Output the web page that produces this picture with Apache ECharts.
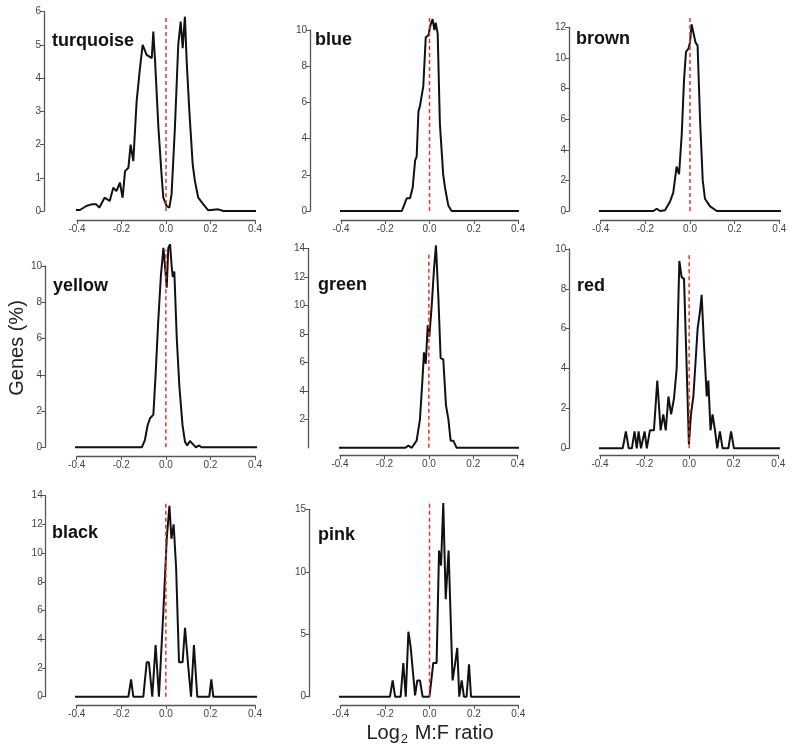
<!DOCTYPE html>
<html>
<head>
<meta charset="utf-8">
<style>html,body{margin:0;padding:0;background:#fff}#c{width:800px;height:754px}</style>
<script src="https://cdn.jsdelivr.net/npm/echarts@6/dist/echarts.min.js"></script>
</head>
<body>
<div id="c"></div>
<script>
// ---------- data (Log2 M:F ratio, Genes %) ----------
var panelNames = ['turquoise','blue','brown','yellow','green','red','black','pink'];
var xTicks = [-0.4,-0.2,0.0,0.2,0.4];
var yAxisLabel = 'Genes (%)';

var turquoiseX = [-0.511,-0.476,-0.439,-0.387,-0.358,-0.335,-0.313,-0.300,-0.276,-0.253,-0.237,-0.223,-0.207,-0.195,-0.184,-0.169,-0.159,-0.147,-0.132,-0.117,-0.105,-0.087,-0.064,-0.057,-0.049,-0.034,-0.019,-0.012,0.003,0.015,0.025,0.040,0.055,0.066,0.075,0.085,0.093,0.105,0.120,0.130,0.145,0.168,0.190,0.235,0.258,0.438];
var turquoiseY = [0,0.03,0.03,0.03,0.15,0.2,0.2,0.1,0.4,0.3,0.7,0.6,0.85,0.4,1.2,1.3,2.0,1.5,3.3,4.3,5.0,4.7,4.6,5.4,4.5,2.5,1.0,0.4,0.15,0.1,0.5,2.5,5.0,5.7,4.9,5.85,4.5,3.0,1.4,0.9,0.4,0.2,0.02,0.05,0,0];

var blueX = [-0.496,-0.125,-0.103,-0.088,-0.076,-0.065,-0.058,-0.050,-0.043,-0.028,-0.017,-0.005,0.005,0.014,0.022,0.028,0.037,0.047,0.062,0.070,0.085,0.100,0.445];
var blueY = [0,0,0.7,0.7,1.3,2.8,3.0,5.5,5.8,6.9,9.6,9.7,10.3,10.6,10.0,10.4,9.8,4.8,2.0,1.3,0.3,0,0];

var brownX = [-0.493,-0.164,-0.149,-0.134,-0.112,-0.090,-0.075,-0.060,-0.049,-0.037,-0.027,-0.018,-0.007,0.000,0.007,0.015,0.025,0.034,0.045,0.057,0.067,0.075,0.090,0.120,0.436];
var brownY = [0,0,0.15,0,0.05,0.6,1.2,2.9,2.4,5.0,8.5,10.4,10.6,11.0,12.2,12.3,11.0,10.8,6.0,2.0,0.8,0.9,0.3,0,0];

var yellowX = [-0.485,-0.108,-0.094,-0.082,-0.071,-0.056,-0.046,-0.034,-0.022,-0.011,-0.004,0.004,0.011,0.019,0.026,0.031,0.038,0.049,0.061,0.075,0.086,0.096,0.108,0.123,0.135,0.149,0.161,0.445];
var yellowY = [0,0,0.4,1.2,1.6,1.8,4.0,7.0,9.5,11.0,10.0,8.8,11.0,11.2,10.0,9.4,9.7,6.0,3.3,1.2,0.3,0.1,0.35,0.15,0,0.1,0,0];

var greenX = [-0.493,-0.107,-0.092,-0.077,-0.055,-0.040,-0.028,-0.022,-0.014,-0.005,0.002,0.013,0.023,0.032,0.043,0.053,0.065,0.077,0.088,0.098,0.110,0.125,0.448];
var greenY = [0,0,0.15,0,0.5,2.0,5.0,6.7,5.9,8.6,7.8,10.0,12.5,14.2,10.5,6.3,6.2,3.0,2.0,0.5,0.5,0,0];

var redX = [-0.493,-0.298,-0.284,-0.271,-0.257,-0.245,-0.235,-0.227,-0.216,-0.200,-0.190,-0.176,-0.158,-0.143,-0.128,-0.116,-0.105,-0.093,-0.081,-0.068,-0.056,-0.044,-0.034,-0.023,-0.011,-0.001,0.008,0.019,0.026,0.038,0.049,0.056,0.067,0.079,0.086,0.096,0.105,0.116,0.126,0.138,0.150,0.176,0.188,0.201,0.460];
var redY = [0,0,0.85,0,0,0.85,0,0.85,0,0.85,0,0.9,0.9,3.4,0.9,1.7,0.9,2.6,1.7,2.5,4.0,9.4,8.6,8.5,4.0,0.2,1.7,2.6,2.6,6.0,6.9,7.7,5.1,2.6,3.4,0.9,1.7,0.9,0,0.85,0,0,0.85,0,0];

var blackX = [-0.493,-0.168,-0.156,-0.146,-0.101,-0.086,-0.076,-0.061,-0.046,-0.031,-0.011,0.004,0.016,0.025,0.035,0.046,0.059,0.075,0.086,0.101,0.113,0.126,0.141,0.195,0.204,0.213,0.437];
var blackY = [0,0,1.2,0,0,2.4,2.4,0,3.6,0,6.0,11.0,13.3,11.0,12.0,9.0,2.4,2.4,4.8,2.0,0,3.6,0,0,1.2,0,0];

var pinkX = [-0.481,-0.178,-0.166,-0.155,-0.130,-0.118,-0.107,-0.095,-0.085,-0.076,-0.065,-0.055,-0.043,-0.031,0.000,0.017,0.032,0.043,0.052,0.062,0.073,0.086,0.095,0.104,0.115,0.125,0.134,0.145,0.155,0.167,0.178,0.187,0.445];
var pinkY = [0,0,1.3,0,0,2.7,0,5.2,4.0,3.9,0.1,1.3,1.3,0,0,2.7,2.7,11.7,10.5,15.5,7.8,11.7,6.5,1.3,2.6,3.9,0,1.3,0,0,2.6,0,0];

var seriesX = [turquoiseX, blueX, brownX, yellowX, greenX, redX, blackX, pinkX];
var seriesY = [turquoiseY, blueY, brownY, yellowY, greenY, redY, blackY, pinkY];
var yMaxTicks = [6, 10, 12, 10, 14, 10, 14, 15];
var yIntervals = [1, 2, 2, 2, 2, 2, 2, 5];
var refLineTop = [5.85, 10.7, 12.65, 10.9, 13.6, 9.8, 13.6, 15.6];

// ---------- layout ----------
var layout = [
  {left:77,   width:178,   top:11.7,  height:199.3, xoff:9,   yoff:33,   lx:52,  ly:42},
  {left:341,  width:177,   top:30,    height:181,   xoff:9,   yoff:31,   lx:315, ly:41},
  {left:600.7,width:178.6, top:27.3,  height:183.7, xoff:9,   yoff:31.7, lx:576, ly:40},
  {left:76.7, width:178.3, top:266,   height:181.3, xoff:8.7, yoff:31.7, lx:53,  ly:287},
  {left:340,  width:177.7, top:248.3, height:199.5, xoff:7.5, yoff:32,   lx:318, ly:286},
  {left:600,  width:178.3, top:249,   height:199.3, xoff:6.7, yoff:30.7, lx:577, ly:287},
  {left:76.7, width:178.3, top:495.7, height:201,   xoff:8.3, yoff:31,   lx:52,  ly:534},
  {left:340.7,width:177.6, top:509.3, height:187.4, xoff:8.3, yoff:31.7, lx:318, ly:536}
];

var axisColor = '#555';
var labelColor = '#444';
var grids = [], xAxes = [], yAxes = [], series = [], graphics = [];

for (var i = 0; i < panelNames.length; i++) {
  var L = layout[i];
  grids.push({left:L.left, top:L.top, width:L.width, height:L.height, containLabel:false});
  xAxes.push({
    type:'value', gridIndex:i, min:xTicks[0], max:xTicks[xTicks.length-1], interval:0.2,
    position:'bottom', offset:L.xoff,
    splitLine:{show:false},
    axisLine:{show:true, onZero:false, lineStyle:{color:axisColor, width:1.3}},
    axisTick:{show:true, length:4, lineStyle:{color:axisColor, width:1}},
    axisLabel:{fontSize:10, color:labelColor, margin:4, fontFamily:'Liberation Sans, Arial',
      formatter:function(v){ return Math.abs(v) < 1e-9 ? '0.0' : v.toFixed(1); }}
  });
  var ya = {
    type:'value', gridIndex:i, min:0, max:yMaxTicks[i], interval:yIntervals[i],
    position:'left', offset:L.yoff,
    splitLine:{show:false},
    axisLine:{show:true, onZero:false, lineStyle:{color:axisColor, width:1.3}},
    axisTick:{show:true, length:4, lineStyle:{color:axisColor, width:1}},
    axisLabel:{fontSize:10, color:labelColor, margin:3, fontFamily:'Liberation Sans, Arial'}
  };
  if (panelNames[i] === 'green') {
    var cv = [2,4,6,8,10,12,14];
    ya.axisTick.customValues = cv;
    ya.axisLabel.customValues = cv;
  }
  yAxes.push(ya);
  var pts = [];
  for (var k = 0; k < seriesX[i].length; k++) pts.push([seriesX[i][k], seriesY[i][k]]);
  series.push({
    type:'line', xAxisIndex:i, yAxisIndex:i, data:pts, showSymbol:false, symbol:'none',
    clip:false, smooth:false, silent:true, animation:false,
    lineStyle:{color:'#111', width:2},
    z:2
  });
  series.push({
    type:'line', xAxisIndex:i, yAxisIndex:i, data:[[0,0],[0,refLineTop[i]]], showSymbol:false, symbol:'none',
    clip:false, silent:true, animation:false,
    lineStyle:{color:'#e8302a', width:1.5, type:[4,3]},
    z:3
  });
  graphics.push({type:'text', left:L.lx, top:L.ly - 10, z:10,
    style:{text:panelNames[i], font:'bold 18px "Liberation Sans", Arial, sans-serif', fill:'#111'}});
}

graphics.push({type:'text', x:17, y:348, rotation:Math.PI/2, z:10,
  style:{text:yAxisLabel, font:'20px "Liberation Sans", Arial, sans-serif', fill:'#222', align:'center', verticalAlign:'middle'}});
graphics.push({type:'text', x:430, y:733, z:10,
  style:{text:'Log{s|2} M:F ratio', font:'20px "Liberation Sans", Arial, sans-serif', fill:'#222', align:'center', verticalAlign:'middle',
    rich:{s:{fontSize:13, fontFamily:'Liberation Sans, Arial', fill:'#222', padding:[12,1,0,1]}}}});

var chart = echarts.init(document.getElementById('c'), null, {renderer:'canvas'});
chart.setOption({
  animation:false,
  backgroundColor:'#fff',
  grid:grids, xAxis:xAxes, yAxis:yAxes, series:series, graphic:graphics
});
</script>
</body>
</html>
